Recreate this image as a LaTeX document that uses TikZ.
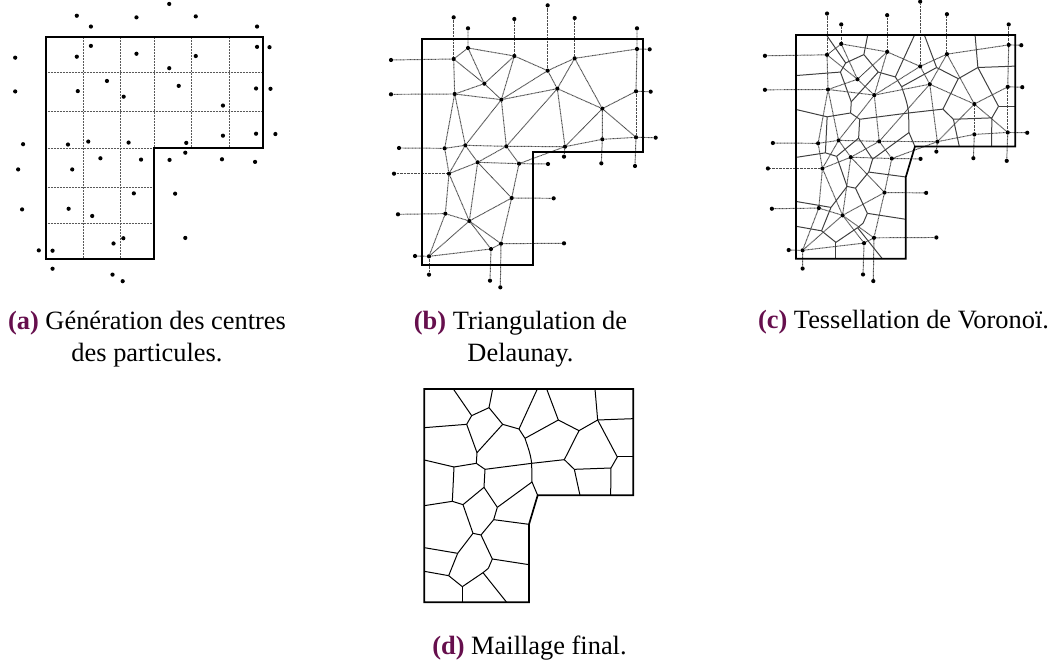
\documentclass[tikz,border=0pt]{standalone}
\usepackage{fontspec}
\setmainfont{Liberation Serif}
\usetikzlibrary{positioning}
\definecolor{capcolor}{HTML}{660F4D}
\tikzset{
    site/.style={circle, fill=black, inner sep=0pt, minimum size=4.2pt},
    dualedge/.style={line width=.95pt, black!70, dash pattern=on .9pt off .5pt},
    gridline/.style={line width=.95pt, black!65, dash pattern=on .9pt off .6pt},
    border/.style={line width=1.7pt, line join=miter},
    cell/.style={line width=1pt},
    capt/.style={font=\fontsize{26.4}{32}\selectfont, align=center, anchor=base}
}
\newcommand{\capl}[1]{\textcolor{capcolor}{\textbf{(#1)}}}
% les centres, dans le repere de la triangulation
\newcommand{\placesites}{
    \foreach \n/\x/\y in {s1/264/144, s2/221/177, s3/403/168, s4/503/212, s5/584/175, s6/771/147, s7/313/251,
        s8/224/282, s9/364/299, s10/532/266, s11/667/326, s12/768/274, s13/768/412, s14/667/418, s15/555/440,
        s16/379/439, s17/256/436, s18/194/445, s19/293/487, s20/417/491, s21/207/521, s22/395/594, s23/196/641,
        s24/268/663, s25/363/731, s26/333/747, s27/147/769,
        m1/264/85, m2/221/52, m3/403/57, m4/503/16, m5/584/54, m6/771/85, m7/809/148, m8/33/180,
        m9/33/283, m10/812/275, m11/827/413, m12/57/444, m13/42/521, m14/54/643, m15/105/768, m16/147/824,
        m17/330/842, m18/361/862, m19/552/730, m20/521/595, m21/504/492, m22/552/470, m23/664/490, m24/765/498}
        \node[site] (\n) at (\x, \y) {};
}
\newcommand{\drawdual}{
    \foreach \a/\b in {s1/m1, s2/m2, s3/m3, s4/m4, s5/m5, s6/m6, s6/m7, s2/m8, s8/m9, s12/m10, s13/m11, s18/m12,
        s21/m13, s23/m14, s27/m15, s27/m16, s26/m17, s25/m18, s25/m19, s22/m20, s20/m21, s15/m22, s14/m23, s13/m24,
        s2/s1, s1/s3, s3/s4, s4/s5, s5/s6, s1/s7, s2/s7, s2/s8, s7/s8, s7/s3, s7/s9, s8/s9, s3/s9, s4/s9, s4/s10,
        s5/s10, s9/s10, s5/s11, s10/s11, s6/s12, s12/s13, s9/s16, s9/s17, s8/s17, s8/s18, s10/s16, s10/s15,
        s11/s15, s11/s14, s11/s12, s11/s13, s14/s13, s15/s14, s16/s15, s17/s16, s18/s17, s18/s21, s17/s21, s17/s19,
        s16/s19, s16/s20, s19/s20, s15/s20, s19/s21, s19/s22, s19/s24, s20/s22, s21/s24, s21/s23, s23/s24, s22/s24,
        s22/s25, s23/s27, s24/s27, s24/s25, s24/s26, s25/s26, s26/s27}
        \draw[dualedge] (\a) -- (\b);
}
% les cellules et le contour, dans le repere du maillage final
\newcommand{\drawcells}[1]{
    \foreach \n/\x/\y in {v1/185/107, v2/237/83, v3/170/133, v4/201/218, v5/278/133, v6/327/147, v7/345/175,
        v8/365/250, v9/445/120, v10/507/152, v11/563/120, v12/622/231, v13/603/264, v14/493/268, v15/463/239,
        v16/225/268, v17/199/250, v18/132/261, v19/127/364, v20/159/374, v21/222/322, v22/262/382, v23/366/306,
        v24/251/419, v25/213/465, v26/189/460, v27/143/520, v28/116/587, v29/157/620, v30/219/578, v31/235/565,
        v32/247/537,
        b1/130/27, b2/248/27, b3/43/143, b4/382/27, b5/410/27, b6/555/27, b7/670/116, b8/670/231, b9/602/346,
        b10/510/346, b11/43/240, b12/43/377, b13/383/346, b14/357/433, b15/43/503, b16/43/574, b17/157/667,
        b18/290/667, b19/357/554}
        \coordinate (\n) at (\x, \y);
    \foreach \a/\b in {b1/v1, v1/v2, v2/b2, v1/v3, v3/b3, v3/v4, v2/v5, v5/v4, v5/v6, v6/b4, v6/v7, v7/v9, v9/b5,
        v9/v10, v10/v11, v11/b6, v11/b7, v11/v12, v12/b8, v12/v13, v13/b9, v13/v14, v14/v15, v15/v10, v14/b10,
        v15/v8, v8/v16, v16/v17, v4/v17, v17/v18, v18/b11, v18/v19, v19/b12, v19/v20, v20/v21, v21/v16, v21/v22,
        v22/v23, v23/v8, v23/b13, v22/v24, v24/b14, v24/v25, v25/v26, v26/v20, v26/v27, v27/b15, v27/v28, v28/b16,
        v28/v29, v29/b17, v29/v30, v30/b18, v30/v31, v31/v32, v32/v25, v32/b19}
        \draw[cell, #1] (\a) -- (\b);
    \draw[cell, #1] (v7) to[out=-72, in=97] (v8);
    \draw[border] (43, 27)--(670, 27)--(670, 346)--(383, 346)--(357, 433)--(357, 667)--(43, 667)--cycle;
}
\begin{document}
\begin{tikzpicture}[x=1pt, y=-1pt]
    \useasboundingbox (0, 0) rectangle (1053, 663);
    % (a) centres et grille
    \begin{scope}[shift={(4.39, -1.3)}, scale=.3277]
        \placesites
    \end{scope}
    \foreach \x in {83, 120}
        \draw[gridline] (\x, 37)--(\x, 259);
    \foreach \x in {154, 191, 229}
        \draw[gridline] (\x, 37)--(\x, 148);
    \foreach \y in {72, 111}
        \draw[gridline] (46, \y)--(263, \y);
    \foreach \y in {148, 187, 223}
        \draw[gridline] (46, \y)--(154, \y);
    \draw[border] (46, 37)--(263, 37)--(263, 148)--(154, 148)--(154, 259)--(46, 259)--cycle;
    \node[capt] (capa) at (147, 361) {\capl{a} Génération des centres\\des particules.};
    % (b) triangulation
    \begin{scope}[shift={(380, 0)}, scale=1/3]
        \placesites
        \drawdual
        \draw[border] (127, 117)--(790, 117)--(790, 456)--(458, 456)--(458, 795)--(127, 795)--cycle;
    \end{scope}
    \node[capt] (capb) at (520.5, 361) {\capl{b} Triangulation de\\Delaunay.};
    % (c) tessellation
    \begin{scope}[shift={(754.04, -3.65)}, scale=.3303]
        \placesites
        \drawdual
    \end{scope}
    \begin{scope}[shift={(780.98, 25.55)}, scale=.3497]
        \drawcells{black!75}
    \end{scope}
    \node[capt] (capc) at (903.5, 329) {\capl{c} Tessellation de Voronoï.};
    % (d) maillage
    \begin{scope}[shift={(410, 380)}, scale=1/3]
        \drawcells{black}
    \end{scope}
    \node[capt] (capd) at (529.5, 654) {\capl{d} Maillage final.};
\end{tikzpicture}
\end{document}
